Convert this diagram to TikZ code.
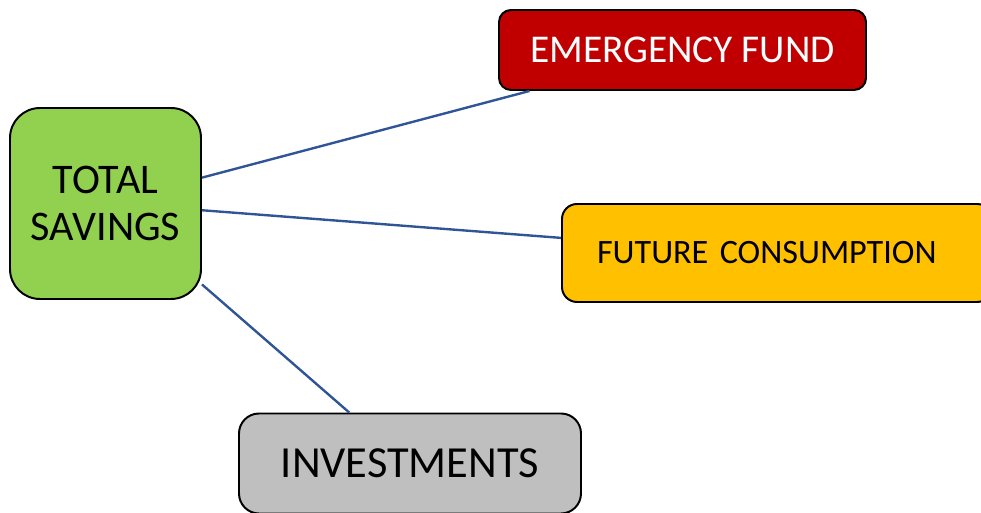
\documentclass[tikz,border=0pt]{standalone}
\usepackage{fontspec}
\setmainfont{Carlito}
\definecolor{vert}{HTML}{92D050}
\definecolor{rouge}{HTML}{C00000}
\definecolor{jaune}{HTML}{FFC000}
\definecolor{gris}{HTML}{BFBFBF}
\definecolor{trait}{HTML}{2F5597}

\begin{document}
\begin{tikzpicture}
\tikzset{bloc/.style={draw, line width=1.4pt, inner sep=0pt},
         lien/.style={draw=trait, line width=1.7pt}}
\path[use as bounding box, clip] (0, 0) rectangle (24.525, 12.825);
\node[bloc, fill=vert, rounded corners=0.75cm, minimum width=4.775cm, minimum height=4.775cm,
      align=center, font=\fontsize{30}{33}\selectfont] (ts) at (2.6375, 7.7375) {TOTAL\\SAVINGS};
\node[bloc, fill=rouge, rounded corners=0.3cm, minimum width=9.175cm, minimum height=2cm,
      text=white, font=\fontsize{28}{32}\selectfont] (ef) at (17.0625, 11.575) {EMERGENCY FUND};
\node[bloc, fill=jaune, rounded corners=0.375cm, inner xsep=0.875cm, text width=9cm, minimum height=2.45cm,
      align=left, font=\fontsize{24.3}{28}\selectfont] (fc) at (19.425, 6.5) {FUTURE CONSUMPTION};
\node[bloc, fill=gris, rounded corners=0.5cm, minimum width=8.55cm, minimum height=2.5cm,
      font=\fontsize{31.6}{36}\selectfont] (inv) at (10.25, 1.2375) {INVESTMENTS};
\draw[lien] (ts.15) -- (ef.195);
\draw[lien] (ts.-4) -- (fc.176);
\draw[lien] (ts.-40) -- (inv.140);
\end{tikzpicture}
\end{document}
